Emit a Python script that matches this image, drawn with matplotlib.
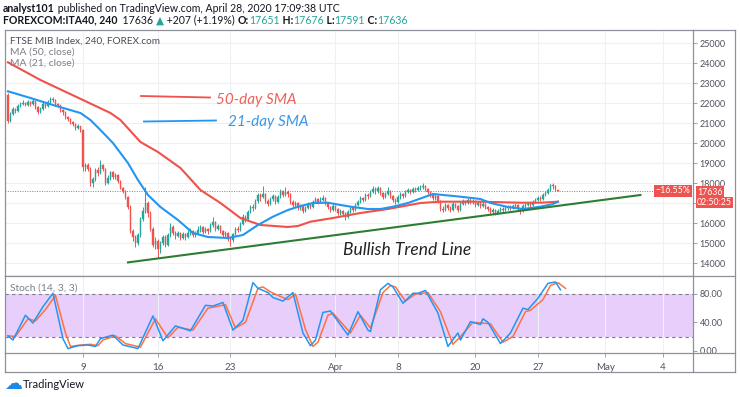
import matplotlib
matplotlib.use("Agg")
import matplotlib.pyplot as plt
from matplotlib.lines import Line2D
import numpy as np

plt.rcParams['font.family'] = ['Lato', 'DejaVu Sans']

# ---- data (bar index = 4h candle) ----
first_open = 22400
closes = [21100, 21450, 21700, 21600, 21850, 21950, 22000, 21900, 22050, 21950,
          22100, 21800, 21550, 21700, 21950, 21850, 22050, 22200, 22150, 21950,
          21900, 21650, 21550, 21300, 21200, 21050, 20950, 20750, 20850, 20650,
          18800,
          18900, 18700, 18000, 18200, 18650, 18500, 18900, 18700, 18000, 18250,
          18550, 18300, 18400, 18100, 17750, 17600, 17300, 16800, 15600,
          15300, 15000, 15400, 16200, 16600, 17000, 16500, 15700, 14900, 15100,
          14700, 15000, 15300, 14900, 15400, 15800, 15500, 15350, 15500, 15250,
          15450, 15300, 15500, 15600, 15400, 15500, 15650, 15800, 15550, 15700,
          15600, 15900, 16050, 15700, 15850, 15600, 15400, 15500, 15200, 15150,
          15450, 15700, 15650, 15950, 16300, 16200, 16550, 16800, 16750, 17100,
          17400, 17300, 17450, 17100, 16950, 17200, 17350, 17050, 17300, 17600,
          17400, 17550, 17450, 17050, 16900, 17000, 16750, 16850, 16600, 16750,
          16950, 16800, 17050, 17200, 17050, 17150, 17250, 17000, 16800, 16650,
          16850, 16700, 16500, 16600, 16450, 16300, 16550, 16750, 16650, 16900,
          17050, 17250, 17150, 17400, 17350, 17550, 17700, 17600, 17750, 17500,
          17300, 17450, 17600, 17350, 17150, 17050, 17300, 17450, 17350, 17550,
          17650, 17550, 17700, 17650, 17750, 17800, 17850, 17700, 17550, 17400,
          17250, 17350, 17100, 16700, 16650, 16900, 16750, 16650, 16950, 16850,
          16650, 16950, 17100, 17000, 17150, 17050, 17100, 16900, 17000, 16850,
          16950, 16800, 16700, 16550, 16650, 16500, 16600, 16700, 16650, 16750,
          16800, 16750, 16850, 16900, 16700, 16600, 16850, 16900, 16950, 16900,
          17050, 17150, 17250, 17200, 17400, 17500, 17650, 17900, 17850, 17700,
          17636]
highs = [22500, 21550, 21800, 21750, 21950, 22050, 22150, 22050, 22150, 22100,
         22250, 22100, 21850, 21800, 22050, 22000, 22150, 22300, 22300, 22200,
         22000, 21900, 21700, 21600, 21350, 21250, 21100, 21000, 20950, 20850,
         20600,
         19000, 19000, 18800, 18300, 18750, 18800, 19150, 18950, 18750, 18400,
         18600, 18600, 18500, 18450, 18150, 17800, 17650, 17350, 16900,
         15700, 15400, 15500, 16300, 16800, 17800, 17100, 16600, 15800, 15300,
         15200, 15100, 15400, 15400, 15500, 16000, 15900, 15600, 15600, 15550,
         15550, 15500, 15650, 15750, 15650, 15600, 15850, 15900, 15850, 15800,
         15750, 16000, 16300, 16100, 15950, 15900, 15650, 15600, 15550, 15300,
         15500, 15800, 15850, 16050, 16450, 16400, 16650, 16900, 16950, 17200,
         17500, 17500, 17850, 17500, 17200, 17300, 17450, 17400, 17400, 17700,
         17650, 17800, 17650, 17500, 17150, 17100, 17050, 16950, 16900, 16850,
         17050, 17000, 17150, 17300, 17250, 17300, 17400, 17300, 17050, 16850,
         16950, 16900, 16750, 16700, 16650, 16550, 16650, 16850, 16800, 17000,
         17150, 17350, 17300, 17500, 17500, 17650, 17850, 17800, 17850, 17800,
         17550, 17550, 17800, 17650, 17400, 17250, 17400, 17550, 17500, 17650,
         17750, 17700, 17800, 17800, 17850, 17900, 18000, 17900, 17750, 17600,
         17450, 17450, 17400, 17150, 16850, 17000, 16950, 16850, 17050, 17000,
         16900, 17050, 17200, 17150, 17250, 17250, 17200, 17150, 17100, 17050,
         17050, 17000, 16850, 16800, 16750, 16700, 16700, 16800, 16800, 16850,
         16900, 16900, 16950, 17000, 16950, 16750, 16950, 17000, 17050, 17050,
         17150, 17250, 17350, 17350, 17500, 17600, 17750, 17950, 18000, 17900,
         17676]
lows = [21000, 21050, 21400, 21500, 21550, 21800, 21900, 21850, 21850, 21850,
        21900, 21700, 21450, 21500, 21650, 21750, 21800, 22000, 22050, 21850,
        21800, 21550, 21400, 21200, 21100, 20950, 20850, 20650, 20700, 20550,
        18600,
        18600, 18600, 17850, 17800, 18100, 18350, 18450, 18600, 17900, 17950,
        18150, 18200, 18200, 18000, 17700, 17500, 17200, 16700, 15500,
        15100, 14800, 14900, 15300, 16100, 16500, 16300, 15600, 14800, 14700,
        14250, 14500, 14900, 14800, 14850, 15300, 15400, 15200, 15300, 15150,
        15200, 15150, 15250, 15400, 15300, 15300, 15450, 15550, 15450, 15500,
        15450, 15550, 15800, 15600, 15650, 15500, 15300, 15300, 15100, 14850,
        15050, 15400, 15550, 15600, 15900, 16050, 16150, 16500, 16600, 16700,
        17000, 17100, 17250, 17000, 16850, 16900, 17100, 16950, 17000, 17250,
        17300, 17350, 17300, 16950, 16800, 16800, 16650, 16650, 16500, 16550,
        16700, 16700, 16750, 17000, 16950, 17000, 17100, 16900, 16700, 16550,
        16600, 16600, 16400, 16400, 16350, 16150, 16250, 16500, 16550, 16600,
        16850, 17000, 17050, 17100, 17200, 17300, 17500, 17450, 17500, 17400,
        17200, 17250, 17400, 17250, 17050, 16950, 17000, 17200, 17250, 17300,
        17500, 17450, 17500, 17550, 17600, 17650, 17700, 17600, 17450, 17300,
        17150, 17150, 17000, 16600, 16550, 16600, 16650, 16550, 16600, 16750,
        16550, 16600, 16900, 16900, 16950, 16950, 16950, 16800, 16850, 16750,
        16800, 16700, 16600, 16450, 16450, 16400, 16450, 16550, 16550, 16600,
        16650, 16650, 16700, 16750, 16600, 16450, 16550, 16750, 16850, 16800,
        16850, 17000, 17100, 17100, 17150, 17350, 17450, 17600, 17700, 17600,
        17591]
opens = [first_open] + closes[:-1]
opens[-1] = 17651

ma50_bar = [0, 13, 30, 41, 45, 53, 60, 69, 77, 85, 93, 101, 112, 116, 121,
            130, 141, 152, 157, 165, 173, 189, 205, 213, 220]
ma50_val = [24050, 23165, 22165, 21515, 21165, 20065, 19565, 18765, 17665,
            17015, 16265, 15915, 15815, 15865, 16080, 16265, 16515, 16715,
            16830, 17015, 17080, 17080, 17030, 17030, 17080]
ma21_bar = [0, 9, 18, 29, 33, 37, 42, 48, 52, 56, 61, 68, 74, 80, 88, 94,
            100, 106, 112, 117, 122, 128, 133, 138, 144, 149, 154, 160, 170,
            181, 189, 193, 200, 206, 213, 218, 220]
ma21_val = [22600, 22265, 21915, 21515, 21165, 20665, 20015, 19015, 18165,
            17415, 16815, 16165, 15515, 15315, 15265, 15415, 15915, 16330,
            16665, 16865, 17015, 17030, 16915, 16815, 16715, 16715, 16830,
            17015, 17465, 17330, 17215, 17015, 16815, 16715, 16830, 16965,
            17080]

trend_bar = [48, 253]
trend_val = [14045, 17415]

k_bar = [0, 2, 7, 10, 14, 18, 22, 24, 28, 32, 35, 37, 42, 46, 52, 58, 62, 67,
         73, 79, 82, 86, 90, 94, 98, 100, 104, 106, 110, 114, 118, 121, 123,
         126, 129, 136, 140, 144, 145, 149, 152, 154, 158, 162, 164, 167, 172,
         176, 180, 181, 185, 189, 190, 192, 197, 201, 206, 208, 212, 216, 219,
         221]
k_val = [21, 15, 50, 39, 62, 81, 17, 3, 7, 8, 6, 17, 22, 8, 3, 49, 14, 35,
         28, 64, 63, 68, 29, 43, 96, 88, 82, 75, 70, 82, 25, 7, 15, 54, 56, 22,
         55, 29, 27, 86, 95, 90, 67, 81, 81, 85, 53, 6, 25, 15, 41, 37, 45, 40,
         10, 25, 60, 58, 74, 95, 97, 86]
d_bar = [0, 3, 8, 11, 15, 19, 23, 25, 29, 33, 36, 38, 43, 47, 53, 59, 64, 68,
         74, 80, 83, 87, 91, 95, 100, 102, 105, 108, 112, 115, 119, 122, 124,
         128, 130, 137, 141, 145, 150, 153, 155, 159, 163, 168, 173, 178, 181,
         186, 193, 198, 202, 207, 209, 214, 217, 220, 223]
d_val = [21, 20, 45, 42, 58, 78, 25, 6, 8, 9, 7, 15, 21, 10, 5, 45, 18, 33,
         29, 60, 62, 65, 32, 40, 88, 90, 83, 78, 72, 80, 30, 6, 12, 50, 53, 25,
         50, 32, 82, 92, 90, 70, 80, 82, 55, 9, 20, 40, 38, 12, 20, 55, 57, 72,
         92, 96, 88]

date_labels = ["9", "16", "23", "Apr", "8", "20", "27", "May", "4"]
date_bars = [30, 60, 89, 131, 156, 187, 212, 239, 262]
price_ticks = list(range(14000, 25001, 1000))
hidden_ticks = [17000]          # covered by the countdown label
stoch_ticks = [0, 40, 80]
last_price = 17636

# ---- layout helpers (pixel -> figure fraction) ----
W, H = 740, 397
def fx(x):
    return x / W
def fy(y):
    return 1 - y / H

UP, DOWN = '#26a69a', '#ef5350'
GRID = '#edf1f6'
BORDER = '#8e9199'
TXT = '#50535e'

fig = plt.figure(figsize=(W / 100, H / 100), dpi=100)
fig.patch.set_facecolor('white')

L, R = 4.7, 692.7
ax = fig.add_axes([fx(L), fy(276), fx(R) - fx(L), fy(30) - fy(276)])
ax2 = fig.add_axes([fx(L), fy(353.3), fx(R) - fx(L), fy(276) - fy(353.3)])

xmin, xmax = -1.3, 273.9
for a in (ax, ax2):
    a.set_xlim(xmin, xmax)
    a.set_xticks(date_bars)
    for s in a.spines.values():
        s.set_color(BORDER)
        s.set_linewidth(0.9)
    a.grid(True, axis='x', color=GRID, lw=0.8)
    a.set_axisbelow(True)
    a.yaxis.tick_right()
    a.tick_params(axis='y', direction='out', length=3, width=0.6, color=BORDER,
                  labelsize=6.5, labelcolor=TXT, pad=2)

ax.set_ylim(13365, 25665)
ax.set_yticks(price_ticks)
ax.set_yticklabels(['' if t in hidden_ticks else str(t) for t in price_ticks])
ax.grid(True, axis='y', color=GRID, lw=0.8)
ax.tick_params(axis='x', length=0, labelbottom=False)

# candles
x = np.arange(len(closes))
o = np.array(opens, float)
c = np.array(closes, float)
hi = np.array(highs, float)
lo = np.array(lows, float)
assert len(o) == len(c) == len(hi) == len(lo)
cols = np.where(c >= o, UP, DOWN)
ax.vlines(x, lo, hi, colors=cols, lw=0.7, zorder=3)
ax.bar(x, c - o, bottom=o, width=0.72, color=cols, edgecolor=cols, lw=0.3, zorder=4)

ax.plot(ma50_bar, ma50_val, color='#f0514a', lw=1.5, zorder=5)
ax.plot(ma21_bar, ma21_val, color='#2196f3', lw=1.5, zorder=5)
ax.plot(trend_bar, trend_val, color='#2e7d32', lw=1.5, zorder=6)
ax.axhline(last_price, color='#ef5350', lw=0.7, ls=(0, (1, 1.5)), zorder=2)

# stochastic pane
ax2.set_ylim(-3.7, 105.4)
ax2.set_yticks(stoch_ticks)
ax2.set_yticklabels(['%.2f' % t for t in stoch_ticks])
ax2.axhspan(20, 80, color='#e8cefb', lw=0, zorder=0)
for lvl in (20, 80):
    ax2.axhline(lvl, color='#7b7e88', lw=0.8, ls=(0, (3, 3)), zorder=1)
ax2.plot(k_bar, k_val, color='#2196f3', lw=1.1, zorder=4)
ax2.plot(d_bar, d_val, color='#ff7043', lw=1.1, zorder=3)
ax2.set_xticklabels(date_labels)
ax2.tick_params(axis='x', direction='out', length=3, width=0.6, color=BORDER,
                labelsize=7, labelcolor=TXT, pad=4)

# outer frame around price scale & time scale
def fline(xs, ys, **kw):
    fig.add_artist(Line2D([fx(v) for v in xs], [fy(v) for v in ys],
                          color=BORDER, lw=0.9, **kw))
fline([R, 735], [30, 30])
fline([735, 735], [30, 372])
fline([L, 735], [372, 372])
fline([L, L], [353.3, 372])
fline([R, 735], [276, 276])
fline([R, 735], [353.3, 353.3])
fline([R, R], [353.3, 372])

# header lines
renderer = fig.canvas.get_renderer()
def chain(x0, y0, parts, size):
    xp = x0
    for s, col, wt in parts:
        t = fig.text(fx(xp), fy(y0), s, color=col, fontsize=size, fontweight=wt,
                     va='center', ha='left')
        xp = t.get_window_extent(renderer=renderer).x1
    return xp

teal = '#26a69a'
dark = '#131722'
chain(3, 8, [("analyst101", dark, 'bold'),
             (" published on TradingView.com, April 28, 2020 17:09:38 UTC", dark, 'normal')], 7.6)
chain(3, 20, [("FOREXCOM:ITA40, 240", dark, 'bold'), ("  17636 ", dark, 'normal'),
              ("▲", teal, 'normal'), (" +207 (+1.19%) ", dark, 'normal'),
              ("O:", dark, 'bold'), ("17651", teal, 'normal'),
              (" H:", dark, 'bold'), ("17676", teal, 'normal'),
              (" L:", dark, 'bold'), ("17591", teal, 'normal'),
              (" C:", dark, 'bold'), ("17636", teal, 'normal')], 7.6)

fig.text(fx(10), fy(41.5), "FTSE MIB Index, 240, FOREX.com", color='#4a4d57',
         fontsize=7.2, va='center')
fig.text(fx(10), fy(52.5), "MA (50, close)", color='#7b7e88', fontsize=7.4, va='center')
fig.text(fx(10), fy(63.5), "MA (21, close)", color='#7b7e88', fontsize=7.4, va='center')
fig.text(fx(10), fy(288), "Stoch (14, 3, 3)", color='#7b7e88', fontsize=7.4, va='center')

# drawn annotations
fig.add_artist(Line2D([fx(141), fx(210)], [fy(96), fy(97.5)], color='#f0514a', lw=1.3))
fig.add_artist(Line2D([fx(144), fx(216)], [fy(121.5), fy(120.5)], color='#2196f3', lw=1.3))
fig.text(fx(216), fy(100), "50-day SMA", color='#f0605a', fontsize=11,
         style='italic', va='center')
fig.text(fx(228), fy(122), "21-day SMA", color='#3a97e8', fontsize=11,
         style='italic', va='center')
fig.text(fx(343), fy(250), "Bullish Trend Line", color='#222222', fontsize=12.5,
         style='italic', va='center')

# price-scale labels
box = dict(boxstyle='square,pad=0.15', fc='#ef5350', ec='none')
fig.text(fx(673), fy(191), "\u221216.55%", color='white', fontsize=6.3, ha='center',
         va='center', bbox=box)
fig.text(fx(697), fy(192), "17636", color='white', fontsize=6.3, ha='left',
         va='center', bbox=box, zorder=5)
fig.text(fx(697), fy(202.5), "02:50:25", color='white', fontsize=6.3, ha='left',
         va='center', bbox=box, zorder=5)

# footer
fig.text(fx(4), fy(384), "\u2601", color='#1e88e5', fontsize=13, va='center',
         family=['DejaVu Sans'])
fig.text(fx(23), fy(385), "TradingView", color='#131722', fontsize=8, va='center')

fig.savefig("out.png", dpi=100)
